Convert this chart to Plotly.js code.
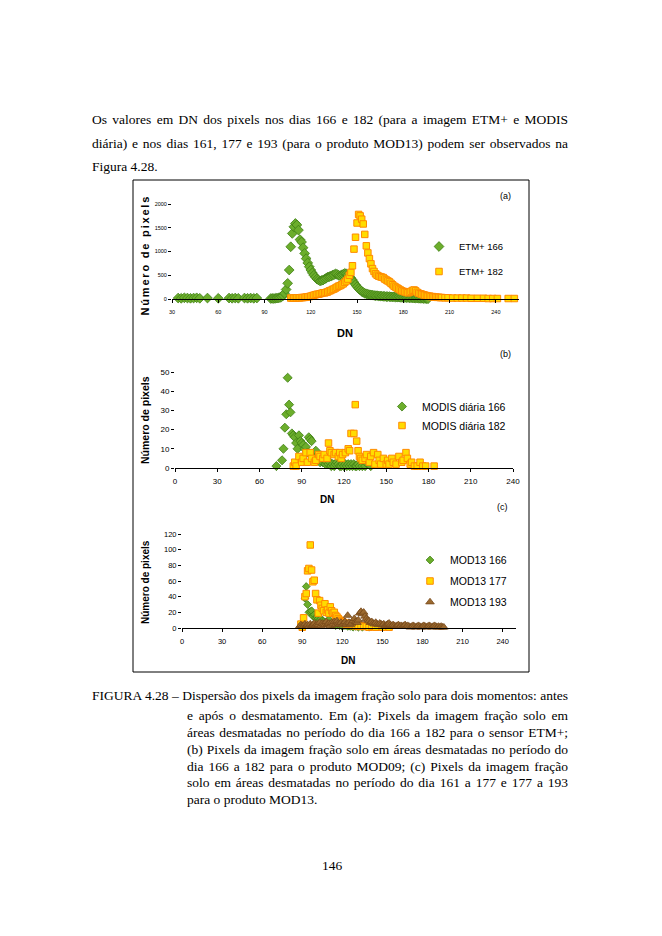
<!DOCTYPE html>
<html>
<head>
<meta charset="utf-8">
<script src="https://cdn.plot.ly/plotly-3.0.1.min.js"></script>
<style>
  html, body { margin:0; padding:0; background:#fff; }
  #page { position:relative; width:662px; height:936px; overflow:hidden; background:#fff; }
  #chart { position:absolute; left:0; top:0; width:662px; height:936px; }
  .ln { position:absolute; font-family:'Liberation Serif','Times New Roman',serif; font-size:13.5px; line-height:16px; color:#000; white-space:nowrap; }
  .annotation[data-index="1"] text { letter-spacing:1.8px; }
</style>
</head>
<body>
<div id="page">
  <div id="chart"></div>
  <div class="ln jl" data-w="476" style="left:92px;top:112px;">Os valores em DN dos pixels nos dias 166 e 182 (para a imagem ETM+ e MODIS</div>
  <div class="ln jl" data-w="476" style="left:92px;top:136px;">diária) e nos dias 161, 177 e 193 (para o produto MOD13) podem ser observados na</div>
  <div class="ln" style="left:92px;top:159px;">Figura 4.28.</div>

  <div class="ln jl" data-w="476" style="left:92px;top:688px;">FIGURA 4.28 – Dispersão dos pixels da imagem fração solo para dois momentos: antes</div>
  <div class="ln jl" data-w="381" style="left:187px;top:708px;">e após o desmatamento. Em (a): Pixels da imagem fração solo em</div>
  <div class="ln jl" data-w="381" style="left:187px;top:725px;">áreas desmatadas no período do dia 166 a 182 para o sensor ETM+;</div>
  <div class="ln jl" data-w="381" style="left:187px;top:742px;">(b) Pixels da imagem fração solo em áreas desmatadas no período do</div>
  <div class="ln jl" data-w="381" style="left:187px;top:759px;">dia 166 a 182 para o produto MOD09; (c) Pixels da imagem fração</div>
  <div class="ln jl" data-w="381" style="left:187px;top:775px;">solo em áreas desmatadas no período do dia 161 a 177 e 177 a 193</div>
  <div class="ln" style="left:187px;top:792px;">para o produto MOD13.</div>

  <div class="ln" style="left:322px;top:858px;">146</div>
</div>
<script>
// ---------- Panel (a): ETM+ ----------
const etm166_dn = [34,36,38,40,42,44,46,48,53,60,67,69,71,73,77,79,81,83,85,
  94,95,96,97,98,99,100,101,102,103,
  104,105,106,107,108,109,110,111,112,113,
  114,115,116,117,118,119,120,121,122,123,
  124,125,126,127,128,129,130,131,132,133,
  134,135,136,137,138,139,140,141,142,143,
  144,145,146,147,148,149,150,151,152,153,
  154,155,156,157,158,159,160,161,162,163,
  164,165,166,167,168,169,170,171,172,173,
  174,175,176,177,178,179,180,181,182,183,
  184,185,186,187,188,189,190,191,192,193,
  194,195,196];
const etm166_n = [20,15,25,20,15,20,25,15,20,15,20,15,20,15,20,15,20,15,20,
  10,12,10,15,18,22,30,45,70,120,
  200,330,610,1100,1380,1520,1590,1560,1450,1250,
  1200,1080,960,850,760,680,610,550,500,460,
  420,400,380,390,400,420,440,460,470,480,
  500,510,530,520,500,490,510,520,540,530,
  510,480,440,400,350,300,260,220,190,160,
  140,120,110,100,90,85,80,75,70,70,
  65,60,60,55,55,50,50,50,45,45,
  45,40,40,40,35,35,35,30,30,30,
  25,25,25,20,20,20,15,15,15,10,
  10,8,5];
const etm182_dn = [107,108,109,110,111,112,113,114,115,116,
  117,118,119,120,121,122,123,124,125,126,
  127,128,129,130,131,132,133,134,135,136,
  137,138,139,140,141,142,143,144,145,146,
  147,148,149,150,151,152,153,154,155,156,
  157,158,159,160,161,162,163,164,165,166,
  167,168,169,170,171,172,173,174,175,176,
  177,178,179,180,181,182,183,184,185,186,
  187,188,189,190,191,192,193,194,195,196,
  197,198,199,200,201,202,203,204,205,
  207,209,212,215,218,221,224,228,232,235,238,241,248,252];
const etm182_n = [20,20,20,20,25,25,25,30,30,35,
  40,45,50,60,70,80,90,100,100,110,
  120,130,130,140,150,170,180,200,210,230,
  250,270,280,300,320,350,380,420,500,560,
  700,1050,1300,1600,1780,1750,1680,1580,1360,1120,
  970,850,740,640,580,530,500,480,470,460,
  450,420,400,380,360,330,300,270,250,230,
  210,190,170,160,150,140,130,140,160,180,
  190,170,140,120,110,100,90,80,70,60,
  60,50,50,40,40,35,35,30,30,
  25,25,20,20,20,20,15,15,15,10,10,10,10,10];

// ---------- Panel (b): MODIS diária ----------
const modis166_dn = [72,76,77,78,79,80,81,82,83,84,
  85,86,87,88,89,90,91,92,93,94,
  95,96,97,98,99,100,101,102,103,104,
  105,106,107,108,109,110,111,112,113,114,
  115,116,117,118,119,120,121,122,123,124,
  125,126,127,128,129,130,131,133,135,137,139];
const modis166_n = [1,4,10,21,28,47,33,29,18,17,
  16,13,10,17,14,13,12,10,11,8,
  16,15,14,6,5,9,5,4,3,5,
  3,4,2,3,2,3,1,2,1,2,
  3,2,1,1,2,1,2,1,2,1,
  2,1,2,1,1,2,1,1,1,2,1];
const modis182_dn = [84,85,86,88,90,91,93,94,96,97,
  99,100,102,103,105,106,108,109,110,111,
  113,114,116,117,118,119,121,123,124,125,
  127,128,129,130,131,132,133,135,136,138,
  139,141,142,144,145,146,148,150,151,152,
  154,155,157,159,161,162,164,165,167,168,
  170,172,174,176,178,184];
const modis182_n = [1,3,1,6,3,5,8,3,8,5,
  3,4,7,6,5,7,5,13,9,8,
  7,8,6,8,5,7,8,10,9,18,
  18,33,14,9,6,5,4,5,7,3,
  6,8,2,7,4,2,5,2,4,2,
  5,3,2,6,3,4,8,5,2,3,
  1,1,3,1,1,1];

// ---------- Panel (c): MOD13 ----------
const mod166_dn = [92,93,94,95,96,97,98,99,100,101,
  102,103,104,105,106,107,108,109,110,111,
  112,113,114,115,116,118,120,122,124,126,
  128,130,132,135,140];
const mod166_n = [38,53,30,20,21,22,15,17,13,14,
  12,10,12,9,8,7,6,9,11,5,
  6,4,5,3,4,3,2,3,2,2,
  1,2,1,1,1];
const mod177_dn = [89,90,91,92,93,94,95,96,97,98,
  99,100,101,102,103,104,105,106,107,108,
  109,110,111,112,113,114,115,116,117,118,
  119,120,121,122,123,124,125,126,127,128,
  129,130,132,134,136,138,140,142,145,150,155];
const mod177_n = [5,1,13,40,44,73,76,106,74,59,
  61,44,36,19,35,29,25,22,31,20,
  23,19,27,22,19,20,16,14,12,10,
  9,8,7,6,5,6,4,5,4,3,
  4,3,2,3,2,2,1,2,1,1,1];
const mod193_dn = [88,89,90,91,92,93,94,95,96,97,
  98,99,100,101,102,103,104,105,106,107,
  108,109,110,111,112,113,114,115,116,117,
  118,119,120,121,122,123,124,125,126,127,
  128,129,130,131,132,133,134,135,136,137,
  138,139,140,141,142,143,144,145,146,147,
  148,149,150,151,152,153,154,155,156,157,
  158,159,160,161,162,163,164,165,166,167,
  168,169,170,171,172,173,174,175,176,177,
  178,179,180,181,182,183,184,185,186,187,
  188,189,190,191,192,193,194,195,196];
const mod193_n = [2,4,3,2,5,3,4,2,5,3,
  4,6,3,5,4,7,3,6,5,4,
  8,5,6,3,7,5,8,4,9,6,
  5,7,4,6,8,5,16,7,4,6,
  9,12,8,7,10,19,21,18,20,15,
  12,10,9,7,8,6,5,7,5,4,
  6,5,4,5,3,4,5,6,4,3,
  4,3,2,3,4,2,3,2,3,4,
  2,3,2,1,2,3,2,1,2,3,
  2,1,2,3,2,1,2,3,2,1,
  2,3,2,1,2,1,2,1,1];

// ---------- Axis ticks ----------
const ticks_a_x = [30,60,90,120,150,180,210,240];
const ticks_a_y = [0,500,1000,1500,2000];
const ticks_bc_x = [0,30,60,90,120,150,180,210,240];
const ticks_b_y = [0,10,20,30,40,50];
const ticks_c_y = [0,20,40,60,80,100,120];

// ---------- styling ----------
const W = 662, H = 936;
const px = v => v / W;
const py = v => 1 - v / H;
const SANS = 'Liberation Sans, Arial, sans-serif';

const green = {symbol:'diamond', color:'#6cae2c', line:{color:'#3f7f14', width:0.8}};
const yellow = {symbol:'square', color:'#ffdc00', line:{color:'#ff8a00', width:1}};
const brown = {symbol:'triangle-up', color:'#9b6a2f', line:{color:'#77491a', width:0.8}};

function tr(x, y, name, xa, ya, leg, mk, size, grp) {
  return {type:'scatter', mode:'markers', x:x, y:y, name:name, xaxis:xa, yaxis:ya,
    legend:leg, legendgroup:grp, cliponaxis:false,
    marker:Object.assign({}, mk, {size:size})};
}

const data = [
  tr(etm166_dn, etm166_n, 'ETM+ 166', 'x', 'y', 'legend', green, 7.5, 'a1'),
  tr(etm182_dn, etm182_n, 'ETM+ 182', 'x', 'y', 'legend', yellow, 6.5, 'a2'),
  tr(modis166_dn, modis166_n, 'MODIS diária 166', 'x2', 'y2', 'legend2', green, 7, 'b1'),
  tr(modis182_dn, modis182_n, 'MODIS diária 182', 'x2', 'y2', 'legend2', yellow, 6.5, 'b2'),
  tr(mod166_dn, mod166_n, 'MOD13 166', 'x3', 'y3', 'legend3', green, 6, 'c1'),
  tr(mod177_dn, mod177_n, 'MOD13 177', 'x3', 'y3', 'legend3', yellow, 6.5, 'c2'),
  tr(mod193_dn, mod193_n, 'MOD13 193', 'x3', 'y3', 'legend3', brown, 7.5, 'c3')
];

function xax(dom, range, tv, fs, anchor, standoff) {
  return {domain:dom, range:range, tickvals:tv, ticktext:tv.map(String), anchor:anchor,
    showline:true, linecolor:'#000', linewidth:1, ticks:'outside', ticklen:3, tickcolor:'#000',
    showgrid:false, zeroline:false, tickfont:{family:SANS, size:fs, color:'#000'},
    ticklabelstandoff:standoff, fixedrange:true};
}
function yax(dom, range, tv, fs, anchor) {
  return {domain:dom, range:range, tickvals:tv, ticktext:tv.map(String), anchor:anchor,
    showline:false, ticks:'outside', ticklen:3, tickcolor:'#000',
    showgrid:false, zeroline:false, tickfont:{family:SANS, size:fs, color:'#000'}, fixedrange:true};
}

function ann(text, x, y, size, bold, angle) {
  return {text: bold ? '<b>' + text + '</b>' : text, x:px(x), y:py(y), xref:'paper', yref:'paper',
    showarrow:false, textangle:angle || 0, xanchor:'center', yanchor:'middle',
    font:{family:SANS, size:size, color:'#000'}};
}

const legBase = {bgcolor:'rgba(0,0,0,0)', borderwidth:0, xanchor:'left', yanchor:'middle',
  traceorder:'grouped', itemclick:false, itemdoubleclick:false};

const layout = {
  width:W, height:H, margin:{l:0, r:0, t:0, b:0},
  paper_bgcolor:'rgba(0,0,0,0)', plot_bgcolor:'rgba(0,0,0,0)',
  showlegend:true,
  xaxis: xax([px(172), px(519)], [30, 255], ticks_a_x, 5.5, 'y', 4),
  yaxis: yax([py(299), py(204)], [0, 2000], ticks_a_y, 5.5, 'x'),
  xaxis2: xax([px(175), px(513)], [0, 240], ticks_bc_x, 8, 'y2', 2),
  yaxis2: yax([py(468), py(372)], [0, 50], ticks_b_y, 8, 'x2'),
  xaxis3: xax([px(182), px(516)], [0, 250], ticks_bc_x, 7.5, 'y3', 3),
  yaxis3: yax([py(628), py(534)], [0, 120], ticks_c_y, 7.5, 'x3'),
  legend: Object.assign({}, legBase, {x:px(419), y:py(259), tracegroupgap:6,
    font:{family:SANS, size:9.5, color:'#000'}}),
  legend2: Object.assign({}, legBase, {x:px(382), y:py(416), tracegroupgap:0,
    font:{family:SANS, size:10.5, color:'#000'}}),
  legend3: Object.assign({}, legBase, {x:px(410), y:py(581), tracegroupgap:2,
    font:{family:SANS, size:10.5, color:'#000'}}),
  shapes:[{type:'rect', xref:'paper', yref:'paper', x0:px(133), x1:px(529), y0:py(672), y1:py(180),
    line:{color:'#000', width:1}, fillcolor:'rgba(0,0,0,0)', layer:'below'}],
  annotations:[
    ann('DN', 345, 333, 11, true, 0),
    ann('Número de pixels', 145, 255, 11, true, -90),
    ann('(a)', 505, 196, 9, false),
    ann('DN', 327, 499, 10, true),
    ann('Número de pixels', 145, 420, 10.5, true, -90),
    ann('(b)', 505, 354, 9, false),
    ann('DN', 348, 660, 10, true),
    ann('Número de pixels', 145, 582, 10, true, -90),
    ann('(c)', 503, 507, 9, false)
  ]
};

Plotly.newPlot('chart', data, layout, {staticPlot:true, displayModeBar:false});

// justify text lines to their measured widths
document.querySelectorAll('.jl').forEach(el => {
  const target = +el.dataset.w;
  const natural = el.getBoundingClientRect().width;
  const spaces = (el.textContent.match(/ /g) || []).length;
  if (spaces) el.style.wordSpacing = ((target - natural) / spaces) + 'px';
});
</script>
</body>
</html>
